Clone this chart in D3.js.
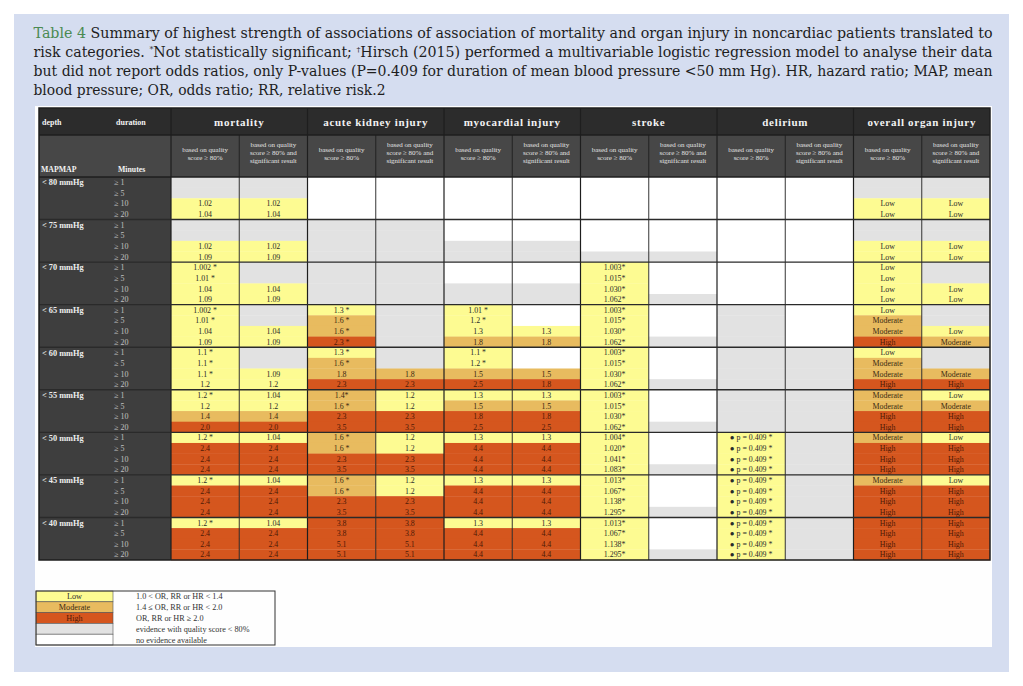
<!DOCTYPE html>
<html>
<head>
<meta charset="utf-8">
<title>Table 4 | MAP thresholds and organ injury</title>
<style>
  body {margin: 0; padding: 0; background: #fff; overflow: hidden;}
  svg {display: block;}
</style>
</head>
<body>
<div id="chart"></div>
<script src="https://cdn.jsdelivr.net/npm/d3@7"></script>
<script>
// ---- data ----
var depths = ["< 80 mmHg", "< 75 mmHg", "< 70 mmHg", "< 65 mmHg", "< 60 mmHg",
              "< 55 mmHg", "< 50 mmHg", "< 45 mmHg", "< 40 mmHg"];
var durations = ["≥ 1", "≥ 5", "≥ 10", "≥ 20"];
var outcomes = ["mortality", "acute kidney injury", "myocardial injury",
                "stroke", "delirium", "overall organ injury"];
var subHeadQ = ["based on quality", "score ≥ 80%"];
var subHeadS = ["based on quality", "score ≥ 80% and", "significant result"];

// cell = level letter (L low, M moderate, H high, G quality < 80%, W no evidence) + text
var mortalityQ = [
  "G", "G", "L1.02", "L1.04",
  "G", "G", "L1.02", "L1.09",
  "L1.002 *", "L1.01 *", "L1.04", "L1.09",
  "L1.002 *", "L1.01 *", "L1.04", "L1.09",
  "L1.1 *", "L1.1 *", "L1.1 *", "L1.2",
  "L1.2 *", "L1.2", "M1.4", "H2.0",
  "L1.2 *", "H2.4", "H2.4", "H2.4",
  "L1.2 *", "H2.4", "H2.4", "H2.4",
  "L1.2 *", "H2.4", "H2.4", "H2.4"];
var mortalityS = [
  "G", "G", "L1.02", "L1.04",
  "G", "G", "L1.02", "L1.09",
  "G", "G", "L1.04", "L1.09",
  "G", "G", "L1.04", "L1.09",
  "G", "G", "L1.09", "L1.2",
  "L1.04", "L1.2", "M1.4", "H2.0",
  "L1.04", "H2.4", "H2.4", "H2.4",
  "L1.04", "H2.4", "H2.4", "H2.4",
  "L1.04", "H2.4", "H2.4", "H2.4"];
var akiQ = [
  "W", "W", "W", "W",
  "G", "G", "G", "G",
  "G", "G", "G", "G",
  "L1.3 *", "M1.6 *", "M1.6 *", "H2.3 *",
  "L1.3 *", "M1.6 *", "M1.8", "H2.3",
  "M1.4*", "M1.6 *", "H2.3", "H3.5",
  "M1.6 *", "M1.6 *", "H2.3", "H3.5",
  "M1.6 *", "M1.6 *", "H2.3", "H3.5",
  "H3.8", "H3.8", "H5.1", "H5.1"];
var akiS = [
  "W", "W", "W", "W",
  "G", "G", "G", "G",
  "G", "G", "G", "G",
  "G", "G", "G", "G",
  "G", "G", "M1.8", "H2.3",
  "L1.2", "L1.2", "H2.3", "H3.5",
  "L1.2", "L1.2", "H2.3", "H3.5",
  "L1.2", "L1.2", "H2.3", "H3.5",
  "H3.8", "H3.8", "H5.1", "H5.1"];
var myoQ = [
  "W", "W", "W", "W",
  "W", "W", "G", "G",
  "W", "W", "G", "G",
  "L1.01 *", "L1.2 *", "L1.3", "M1.8",
  "L1.1 *", "L1.2 *", "M1.5", "H2.5",
  "L1.3", "M1.5", "H1.8", "H2.5",
  "L1.3", "H4.4", "H4.4", "H4.4",
  "L1.3", "H4.4", "H4.4", "H4.4",
  "L1.3", "H4.4", "H4.4", "H4.4"];
var myoS = [
  "W", "W", "W", "W",
  "W", "W", "G", "G",
  "W", "W", "G", "G",
  "W", "W", "L1.3", "M1.8",
  "W", "W", "M1.5", "H1.8",
  "L1.3", "M1.5", "H1.8", "H2.5",
  "L1.3", "H4.4", "H4.4", "H4.4",
  "L1.3", "H4.4", "H4.4", "H4.4",
  "L1.3", "H4.4", "H4.4", "H4.4"];
var strokeQ = [
  "W", "W", "W", "W",
  "W", "W", "W", "G",
  "L1.003*", "L1.015*", "L1.030*", "L1.062*",
  "L1.003*", "L1.015*", "L1.030*", "L1.062*",
  "L1.003*", "L1.015*", "L1.030*", "L1.062*",
  "L1.003*", "L1.015*", "L1.030*", "L1.062*",
  "L1.004*", "L1.020*", "L1.041*", "L1.083*",
  "L1.013*", "L1.067*", "L1.138*", "L1.295*",
  "L1.013*", "L1.067*", "L1.138*", "L1.295*"];
var strokeS = [
  "W", "W", "W", "W",
  "W", "W", "W", "G",
  "W", "W", "W", "G",
  "W", "W", "W", "G",
  "W", "W", "W", "G",
  "W", "W", "W", "G",
  "W", "W", "W", "G",
  "W", "W", "W", "G",
  "W", "W", "W", "G"];
var deliriumQ = [
  "W", "W", "W", "W",
  "W", "W", "W", "W",
  "W", "W", "W", "W",
  "G", "G", "G", "G",
  "G", "G", "G", "G",
  "G", "G", "G", "G",
  "L● p = 0.409 *", "L● p = 0.409 *", "L● p = 0.409 *", "L● p = 0.409 *",
  "L● p = 0.409 *", "L● p = 0.409 *", "L● p = 0.409 *", "L● p = 0.409 *",
  "L● p = 0.409 *", "L● p = 0.409 *", "L● p = 0.409 *", "L● p = 0.409 *"];
var deliriumS = [
  "W", "W", "W", "W",
  "W", "W", "W", "W",
  "W", "W", "W", "W",
  "W", "W", "W", "W",
  "G", "G", "G", "G",
  "G", "G", "G", "G",
  "G", "G", "G", "G",
  "G", "G", "G", "G",
  "G", "G", "G", "G"];
var overallQ = [
  "G", "G", "LLow", "LLow",
  "G", "G", "LLow", "LLow",
  "LLow", "LLow", "LLow", "LLow",
  "LLow", "MModerate", "MModerate", "HHigh",
  "LLow", "MModerate", "MModerate", "HHigh",
  "MModerate", "MModerate", "HHigh", "HHigh",
  "MModerate", "HHigh", "HHigh", "HHigh",
  "MModerate", "HHigh", "HHigh", "HHigh",
  "HHigh", "HHigh", "HHigh", "HHigh"];
var overallS = [
  "G", "G", "LLow", "LLow",
  "G", "G", "LLow", "LLow",
  "G", "G", "LLow", "LLow",
  "G", "G", "LLow", "MModerate",
  "G", "G", "MModerate", "HHigh",
  "LLow", "MModerate", "HHigh", "HHigh",
  "LLow", "HHigh", "HHigh", "HHigh",
  "LLow", "HHigh", "HHigh", "HHigh",
  "HHigh", "HHigh", "HHigh", "HHigh"];

var columns = [mortalityQ, mortalityS, akiQ, akiS, myoQ, myoS,
               strokeQ, strokeS, deliriumQ, deliriumS, overallQ, overallS];

var legendLevels = ["L", "M", "H", "G", "W"];
var legendNames = ["Low", "Moderate", "High", "", ""];
var legendText = ["1.0 < OR, RR or HR < 1.4", "1.4 ≤ OR, RR or HR < 2.0",
                  "OR, RR or HR ≥ 2.0", "evidence with quality score < 80%",
                  "no evidence available"];

// ---- styles ----
var fills = {L: "#fdfb92", M: "#e8bb5f", H: "#d5561e", G: "#e2e2e2", W: "#ffffff"};
var inks = {L: "#2b2b2b", M: "#3b2a12", H: "#4e1a06", G: "#333", W: "#333"};
var serif = "'Liberation Serif', 'Times New Roman', serif";

var W = 1023, H = 686;
var svg = d3.select("#chart").append("svg")
    .attr("width", W)
    .attr("height", H);

// panel + white sheet
svg.append("rect").attr("x", 14).attr("y", 14).attr("width", 995).attr("height", 658)
    .attr("fill", "#d5ddf0");
svg.append("rect").attr("x", 35).attr("y", 106).attr("width", 957).attr("height", 541)
    .attr("fill", "#fefefe");

// ---- caption ----
var titleLines = [
  [{t: "Table 4", c: "#4b8a52"}, {t: " Summary of highest strength of associations of association of mortality and organ injury in noncardiac patients translated to"}],
  [{t: "risk categories. "}, {t: "*", sup: true}, {t: "Not statistically significant; "}, {t: "†", sup: true}, {t: "Hirsch (2015) performed a multivariable logistic regression model to analyse their data"}],
  [{t: "but did not report odds ratios, only P-values (P=0.409 for duration of mean blood pressure <50 mm Hg). HR, hazard ratio; MAP, mean"}],
  [{t: "blood pressure; OR, odds ratio; RR, relative risk.2"}]
];
var titleLen = [959, 959, 959, 352];

titleLines.forEach(function(parts, i) {
  var txt = svg.append("text")
      .attr("x", 33.5)
      .attr("y", 37.5 + i * 19)
      .attr("font-family", "'DejaVu Serif', serif")
      .attr("font-size", 14.3)
      .attr("fill", "#1e1e1e")
      .attr("textLength", titleLen[i])
      .attr("lengthAdjust", "spacingAndGlyphs");
  var shifted = false;
  parts.forEach(function(p) {
    var ts = txt.append("tspan").text(p.t);
    if (p.c) ts.attr("fill", p.c);
    if (p.sup) {
      ts.attr("font-size", 8).attr("dy", -5);
      shifted = true;
    } else if (shifted) {
      ts.attr("dy", 5);
      shifted = false;
    }
  });
});

// ---- table ----
var left = 39, right = 990, top0 = 108, head1 = 135, head2 = 177, bottom = 560;
var dataLeft = 171;

var colKeys = d3.range(columns.length);
var x = d3.scaleBand().domain(colKeys).range([dataLeft, right]);
var y = d3.scaleBand().domain(d3.range(depths.length * durations.length)).range([head2, bottom]);
var bw = x.bandwidth(), bh = y.bandwidth();

// header backgrounds
svg.append("rect").attr("x", left).attr("y", top0).attr("width", right - left).attr("height", head1 - top0)
    .attr("fill", "#2c2c2c");
svg.append("rect").attr("x", left).attr("y", head1).attr("width", right - left).attr("height", head2 - head1)
    .attr("fill", "#474747");
svg.append("rect").attr("x", left).attr("y", head2).attr("width", dataLeft - left).attr("height", bottom - head2)
    .attr("fill", "#3e3e3e");

// cells
var cells = [];
columns.forEach(function(col, c) {
  col.forEach(function(v, r) {
    cells.push({c: c, r: r, level: v.charAt(0), label: v.slice(1)});
  });
});

svg.append("g").selectAll("rect")
    .data(cells)
  .enter().append("rect")
    .attr("x", function(d) { return x(d.c); })
    .attr("y", function(d) { return y(d.r); })
    .attr("width", bw)
    .attr("height", bh + 0.3)
    .attr("fill", function(d) { return fills[d.level]; });

svg.append("g").selectAll("text")
    .data(cells.filter(function(d) { return d.label; }))
  .enter().append("text")
    .attr("x", function(d) { return x(d.c) + bw / 2; })
    .attr("y", function(d) { return y(d.r) + bh / 2 + 2.8; })
    .attr("text-anchor", "middle")
    .attr("font-family", serif)
    .attr("font-size", 7.9)
    .attr("fill", function(d) { return inks[d.level]; })
    .text(function(d) { return d.label; });

// row labels
svg.append("g").selectAll("text")
    .data(depths)
  .enter().append("text")
    .attr("x", 42)
    .attr("y", function(d, i) { return y(i * 4) + bh / 2 + 3; })
    .attr("font-family", serif)
    .attr("font-weight", "bold")
    .attr("font-size", 8.3)
    .attr("fill", "#eeeeee")
    .text(function(d) { return d; });

var durRows = d3.range(depths.length * durations.length);
svg.append("g").selectAll("text")
    .data(durRows)
  .enter().append("text")
    .attr("x", 114)
    .attr("y", function(d) { return y(d) + bh / 2 + 2.8; })
    .attr("font-family", serif)
    .attr("font-size", 8)
    .attr("fill", "#c0c0c0")
    .text(function(d) { return durations[d % 4]; });

// header texts
function headText(tx, ty, s, opts) {
  return svg.append("text")
      .attr("x", tx).attr("y", ty)
      .attr("font-family", serif)
      .attr("font-size", opts.size)
      .attr("font-weight", opts.bold ? "bold" : "normal")
      .attr("text-anchor", opts.anchor || "start")
      .attr("letter-spacing", opts.ls || 0)
      .attr("fill", opts.fill || "#f2f2f2")
      .text(s);
}
headText(42, 124.5, "depth", {size: 8, bold: true});
headText(116, 124.5, "duration", {size: 8, bold: true});
headText(41, 172, "MAPMAP", {size: 7.8, bold: true});
headText(118, 172, "Minutes", {size: 7.8, bold: true});

outcomes.forEach(function(o, g) {
  var gx = x(g * 2) + bw;
  headText(gx, 125.5, o, {size: 11, bold: true, anchor: "middle", ls: 0.7});
});

colKeys.forEach(function(c) {
  var lines = c % 2 === 0 ? subHeadQ : subHeadS;
  var start = c % 2 === 0 ? 151.8 : 146.5;
  var step = 8;
  lines.forEach(function(s, k) {
    headText(x(c) + bw / 2, start + k * step, s, {size: 7, anchor: "middle", fill: "#e2e2e2"});
  });
});

// grid lines
var grid = svg.append("g").attr("stroke", "#1e1e1e").attr("fill", "none");
colKeys.forEach(function(c) {
  if (c === 0) return;
  grid.append("line")
      .attr("x1", x(c)).attr("x2", x(c))
      .attr("y1", c % 2 === 0 ? top0 : head1).attr("y2", bottom)
      .attr("stroke-width", c % 2 === 0 ? 1.2 : 0.9);
});
grid.append("line").attr("x1", dataLeft).attr("x2", dataLeft).attr("y1", top0).attr("y2", bottom)
    .attr("stroke-width", 1.2);
grid.append("line").attr("x1", left).attr("x2", right).attr("y1", head1).attr("y2", head1)
    .attr("stroke-width", 1.5);
grid.append("line").attr("x1", left).attr("x2", right).attr("y1", head2).attr("y2", head2)
    .attr("stroke-width", 1.5);
d3.range(1, depths.length).forEach(function(g) {
  grid.append("line")
      .attr("x1", left).attr("x2", right)
      .attr("y1", y(g * 4)).attr("y2", y(g * 4))
      .attr("stroke", "#2a2a2a")
      .attr("stroke-width", 1.4);
});
grid.append("rect").attr("x", left).attr("y", top0).attr("width", right - left).attr("height", bottom - top0)
    .attr("stroke-width", 1.5);

// ---- legend ----
var lgLeft = 36, lgSwatch = 113, lgRight = 275, lgTop = 591, lgRow = 10.8;
var ly = d3.scaleBand().domain(d3.range(legendLevels.length))
    .range([lgTop, lgTop + lgRow * legendLevels.length]);

svg.append("g").selectAll("rect")
    .data(legendLevels)
  .enter().append("rect")
    .attr("x", lgLeft)
    .attr("y", function(d, i) { return ly(i); })
    .attr("width", lgSwatch - lgLeft)
    .attr("height", ly.bandwidth())
    .attr("fill", function(d) { return fills[d]; })
    .attr("stroke", "#555")
    .attr("stroke-width", 0.6);

svg.append("g").selectAll("text")
    .data(legendNames)
  .enter().append("text")
    .attr("x", (lgLeft + lgSwatch) / 2)
    .attr("y", function(d, i) { return ly(i) + lgRow / 2 + 2.9; })
    .attr("text-anchor", "middle")
    .attr("font-family", serif)
    .attr("font-size", 8.2)
    .attr("fill", function(d, i) { return inks[legendLevels[i]]; })
    .text(function(d) { return d; });

svg.append("g").selectAll("text")
    .data(legendText)
  .enter().append("text")
    .attr("x", 136)
    .attr("y", function(d, i) { return ly(i) + lgRow / 2 + 2.9; })
    .attr("font-family", serif)
    .attr("font-size", 8.2)
    .attr("fill", "#333")
    .text(function(d) { return d; });

svg.append("rect")
    .attr("x", lgLeft).attr("y", lgTop)
    .attr("width", lgRight - lgLeft).attr("height", lgRow * legendLevels.length)
    .attr("fill", "none")
    .attr("stroke", "#333")
    .attr("stroke-width", 1);
</script>
</body>
</html>
